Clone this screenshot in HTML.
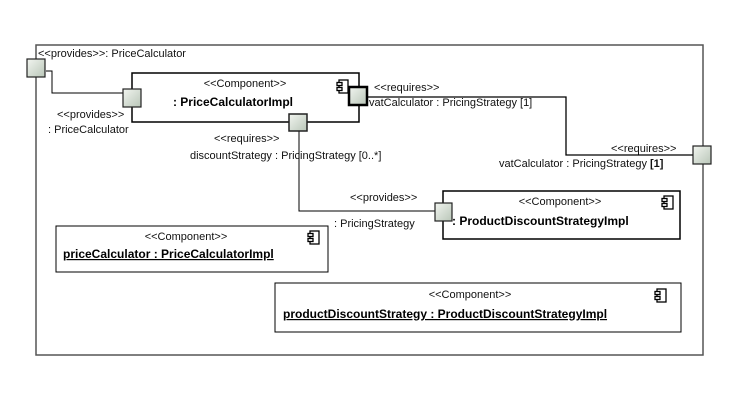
<!DOCTYPE html>
<html><head><style>
html,body{margin:0;padding:0;background:#fff;}
svg{display:block;font-family:"Liberation Sans",Arial,sans-serif;}
.t{font-size:11px;fill:#111;}
.b{font-size:12px;font-weight:bold;fill:#000;}
</style></head><body>
<svg width="753" height="411" viewBox="0 0 753 411" xmlns="http://www.w3.org/2000/svg">
<defs>
<linearGradient id="g" x1="0" y1="0" x2="1" y2="1">
<stop offset="0" stop-color="#f2f5f0"/><stop offset="1" stop-color="#b9c6b8"/>
</linearGradient>
<g id="ic">
<rect x="2" y="0" width="9" height="13" fill="#fff" stroke="#000" stroke-width="1.3"/>
<rect x="0" y="2.5" width="5" height="3" fill="#fff" stroke="#000" stroke-width="1.3"/>
<rect x="0" y="7.5" width="5" height="3" fill="#fff" stroke="#000" stroke-width="1.3"/>
</g>
</defs>
<rect width="753" height="411" fill="#fff"/>
<!-- frame -->
<rect x="36" y="45" width="667" height="310" fill="none" stroke="#555" stroke-width="1.5"/>
<text class="t" x="38" y="57">&lt;&lt;provides&gt;&gt;: PriceCalculator</text>

<!-- connectors -->
<polyline points="46,71 52,71 52,93 123,93" fill="none" stroke="#000" stroke-width="1"/>
<polyline points="368,97 566,97 566,155 693,155" fill="none" stroke="#000" stroke-width="1.3"/>
<polyline points="299,131 299,211 435,211" fill="none" stroke="#000" stroke-width="1"/>

<!-- PriceCalculatorImpl -->
<rect x="132" y="73" width="227" height="49" fill="#fff" stroke="#000" stroke-width="1.5"/>
<text class="t" x="245" y="87" text-anchor="middle">&lt;&lt;Component&gt;&gt;</text>
<text class="b" x="233" y="106" text-anchor="middle">: PriceCalculatorImpl</text>
<use href="#ic" x="337" y="80"/>

<!-- ports -->
<rect x="27" y="59" width="18" height="18" fill="url(#g)" stroke="#222" stroke-width="1.2"/>
<rect x="123" y="89" width="18" height="18" fill="url(#g)" stroke="#222" stroke-width="1.2"/>
<rect x="289" y="114" width="18" height="17" fill="url(#g)" stroke="#222" stroke-width="1.5"/>
<rect x="349" y="87" width="18" height="18" fill="url(#g)" stroke="#000" stroke-width="2.5"/>
<rect x="693" y="146" width="18" height="18" fill="url(#g)" stroke="#222" stroke-width="1.2"/>

<text class="t" x="57" y="118">&lt;&lt;provides&gt;&gt;</text>
<text class="t" x="48" y="133">: PriceCalculator</text>
<text class="t" x="374" y="91">&lt;&lt;requires&gt;&gt;</text>
<text class="t" x="369" y="106">vatCalculator : PricingStrategy [1]</text>
<text class="t" x="214" y="142">&lt;&lt;requires&gt;&gt;</text>
<text class="t" x="190" y="159">discountStrategy : PricingStrategy [0..*]</text>
<text class="t" x="611" y="152">&lt;&lt;requires&gt;&gt;</text>
<text class="t" x="499" y="167">vatCalculator : PricingStrategy <tspan font-weight="bold">[1]</tspan></text>
<text class="t" x="350" y="201">&lt;&lt;provides&gt;&gt;</text>
<text class="t" x="334" y="227">: PricingStrategy</text>

<!-- ProductDiscountStrategyImpl -->
<rect x="443" y="191" width="237" height="48" fill="#fff" stroke="#000" stroke-width="1.5"/>
<text class="t" x="560" y="205" text-anchor="middle">&lt;&lt;Component&gt;&gt;</text>
<text class="b" x="452" y="225">: ProductDiscountStrategyImpl</text>
<use href="#ic" x="662" y="196"/>
<rect x="435" y="203" width="17" height="18" fill="url(#g)" stroke="#222" stroke-width="1.2"/>

<!-- priceCalculator -->
<rect x="56" y="226" width="272" height="46" fill="#fff" stroke="#000" stroke-width="1"/>
<text class="t" x="186" y="240" text-anchor="middle">&lt;&lt;Component&gt;&gt;</text>
<text class="b" x="63" y="258" text-decoration="underline">priceCalculator : PriceCalculatorImpl</text>
<use href="#ic" x="308" y="231"/>

<!-- productDiscountStrategy -->
<rect x="275" y="283" width="406" height="49" fill="#fff" stroke="#000" stroke-width="1"/>
<text class="t" x="470" y="298" text-anchor="middle">&lt;&lt;Component&gt;&gt;</text>
<text class="b" x="283" y="318" text-decoration="underline">productDiscountStrategy : ProductDiscountStrategyImpl</text>
<use href="#ic" x="655" y="289"/>
</svg>
</body></html>
